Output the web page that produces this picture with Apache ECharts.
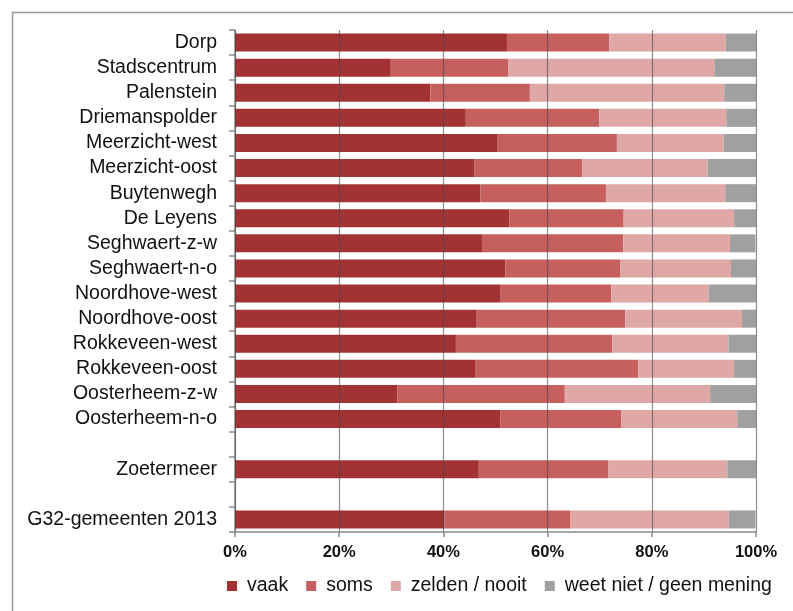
<!DOCTYPE html>
<html>
<head>
<meta charset="utf-8">
<script src="https://cdn.jsdelivr.net/npm/echarts@6/dist/echarts.min.js"></script>
<style>
html,body{margin:0;padding:0;background:#fff;}
#chart{width:793px;height:611px;}
</style>
</head>
<body>
<div id="chart"></div>
<script>
const categories = ['Dorp','Stadscentrum','Palenstein','Driemanspolder','Meerzicht-west','Meerzicht-oost','Buytenwegh','De Leyens','Seghwaert-z-w','Seghwaert-n-o','Noordhove-west','Noordhove-oost','Rokkeveen-west','Rokkeveen-oost','Oosterheem-z-w','Oosterheem-n-o','','Zoetermeer',' ','G32-gemeenten 2013'];
const vaak   = [52.2,29.9,37.5,44.3,50.3,46.0,47.1,52.7,47.4,51.9,51.0,46.4,42.4,46.2,31.2,50.9,null,46.8,null,40.2];
const soms   = [19.6,22.6,19.1,25.6,23.0,20.6,24.1,21.9,27.1,22.0,21.2,28.5,30.0,31.2,32.1,23.2,null,24.8,null,24.1];
const zelden = [22.4,39.5,37.3,24.4,20.5,24.1,22.9,21.2,20.5,21.3,18.7,22.4,22.3,18.4,27.9,22.3,null,22.9,null,30.5];
const weet   = [5.8,8.0,6.1,5.7,6.2,9.3,5.9,4.2,4.9,4.8,9.1,2.7,5.3,4.2,8.8,3.6,null,5.5,null,5.1];
const seriesNames = ['vaak','soms','zelden / nooit','weet niet / geen mening'];
const colors = ['#A33234','#C5605F','#DFA8A7','#A0A0A0'];

const chart = echarts.init(document.getElementById('chart'), null, {renderer:'canvas'});
const font = '"Liberation Sans", Arial, sans-serif';
const dataSets = [vaak, soms, zelden, weet];
chart.setOption({
  animation: false,
  textStyle: {fontFamily: font},
  color: colors,
  graphic: [{
    type: 'rect', left: 10, top: 10, silent: true,
    shape: {width: 800, height: 620},
    style: {fill: 'none', stroke: '#9a9a9a', lineWidth: 1.5}
  }],
  grid: {left: 235, right: 37, top: 30, bottom: 79, containLabel: false},
  legend: {
    left: 227, top: 576, padding: 0, itemWidth: 10, itemHeight: 10, itemGap: 18, icon: 'rect',
    textStyle: {fontSize: 19.5, color: '#111', fontFamily: font, padding: [0,0,0,5]},
    data: seriesNames
  },
  xAxis: {
    type: 'value', min: 0, max: 100, interval: 20, z: 5,
    axisLine: {show: true, lineStyle: {color: '#8a8a8a', width: 1.5}},
    axisTick: {show: true, length: 5, lineStyle: {color: '#8a8a8a', width: 1.5}},
    axisLabel: {formatter: '{value}%', fontSize: 16.5, fontWeight: 'bold', color: '#111', margin: 12, fontFamily: font},
    splitLine: {show: true, lineStyle: {color: 'rgba(70,70,70,0.6)', width: 1.2}}
  },
  yAxis: {
    type: 'category', data: categories, inverse: true,
    axisLine: {show: true, lineStyle: {color: '#8a8a8a', width: 1.5}},
    axisTick: {show: true, interval: 0, length: 6, lineStyle: {color: '#8a8a8a', width: 1.5}},
    axisLabel: {interval: 0, fontSize: 19.5, color: '#111', margin: 18, fontFamily: font}
  },
  series: dataSets.map((d, i) => ({
    name: seriesNames[i], type: 'bar', stack: 'total', barWidth: 18,
    data: d,
    itemStyle: {color: colors[i]}
  }))
});
</script>
</body>
</html>
